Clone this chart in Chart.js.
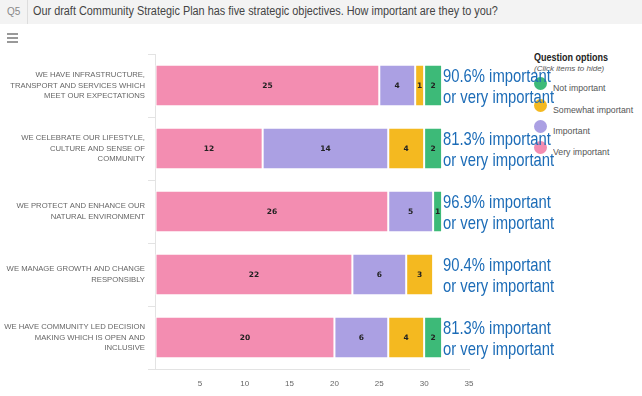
<!DOCTYPE html>
<html>
<head>
<meta charset="utf-8">
<script src="https://cdn.jsdelivr.net/npm/chart.js@4"></script>
<style>
  body { margin: 0; width: 642px; height: 396px; background: #fff; position: relative; overflow: hidden; font-family: "Liberation Sans", Arial, sans-serif; }
  #head { position: absolute; left: 0; top: 0; width: 642px; height: 24px; background: #f3f3f3; }
  #q { position: absolute; left: 7px; top: 6px; font-size: 10px; color: #888; }
  #sep { position: absolute; left: 27px; top: 0; width: 1px; height: 24px; background: #ddd; }
  #title { position: absolute; left: 33px; top: 4px; font-size: 12.5px; color: #444; white-space: nowrap; transform: scaleX(0.87); transform-origin: 0 0; }
  #menu { position: absolute; left: 7px; top: 33px; width: 11px; }
  #menu div { height: 2px; background: #999; margin-bottom: 2px; }
  #legend { position: absolute; left: 534px; top: 52px; color: #555; }
  #legend .t { font-weight: bold; font-size: 10px; color: #222; white-space: nowrap; transform: scaleX(0.9); transform-origin: 0 0; }
  #legend .s { font-style: italic; font-size: 8px; color: #555; margin-top: 1px; white-space: nowrap; }
  #legend .item { position: absolute; left: 0; white-space: nowrap; font-size: 9.5px; }
  #legend .dot { position: absolute; left: 0; width: 13px; height: 13px; border-radius: 50%; }
  #legend .lab { position: absolute; left: 19px; top: 5px; transform: scaleX(0.92); transform-origin: 0 0; }
  #wrap { position: absolute; left: 0; top: 0; width: 642px; height: 396px; }
</style>
</head>
<body>
<div id="head"><span id="q">Q5</span><div id="sep"></div><span id="title">Our draft Community Strategic Plan has five strategic objectives. How important are they to you?</span></div>
<div id="menu"><div></div><div></div><div></div></div>
<div id="legend"><div class="t">Question options</div><div class="s">(Click items to hide)</div></div>
<div id="wrap"><canvas id="myChart" width="642" height="396"></canvas></div>
<script>
let categories = [
    ['WE HAVE INFRASTRUCTURE,', 'TRANSPORT AND SERVICES WHICH', 'MEET OUR EXPECTATIONS'],
    ['WE CELEBRATE OUR LIFESTYLE,', 'CULTURE AND SENSE OF', 'COMMUNITY'],
    ['WE PROTECT AND ENHANCE OUR', 'NATURAL ENVIRONMENT'],
    ['WE MANAGE GROWTH AND CHANGE', 'RESPONSIBLY'],
    ['WE HAVE COMMUNITY LED DECISION', 'MAKING WHICH IS OPEN AND', 'INCLUSIVE']
];
let veryImportant = [25, 12, 26, 22, 20];
let important = [4, 14, 5, 6, 6];
let somewhatImportant = [1, 4, 0, 3, 4];
let notImportant = [2, 2, 1, 0, 2];
let notes = ['90.6%', '81.3%', '96.9%', '90.4%', '81.3%'];
let xTicks = [5, 10, 15, 20, 25, 30, 35];

let pink = '#f38db1', purple = '#aba0e3', yellow = '#f4b920', green = '#3dba78';

// html legend, reversed order like the original
let legendItems = [['Not important', green], ['Somewhat important', yellow], ['Important', purple], ['Very important', pink]];
let legendTop = [25, 47, 68, 89];
let legend = document.getElementById('legend');
legendItems.forEach((it, i) => {
    let d = document.createElement('div');
    d.className = 'item';
    d.style.top = legendTop[i] + 'px';
    d.innerHTML = '<div class="dot" style="background:' + it[1] + '"></div><span class="lab">' + it[0] + '</span>';
    legend.appendChild(d);
});

// numbers inside the bar segments
let segLabels = {
    id: 'segLabels',
    afterDatasetsDraw(chart) {
        let ctx = chart.ctx;
        ctx.save();
        ctx.font = 'bold 7.5px "DejaVu Sans", sans-serif';
        ctx.fillStyle = '#222';
        ctx.textAlign = 'center';
        ctx.textBaseline = 'middle';
        chart.data.datasets.forEach((ds, i) => {
            chart.getDatasetMeta(i).data.forEach((el, j) => {
                if (!ds.data[j]) return;
                let p = el.getCenterPoint();
                ctx.fillText(ds.data[j], p.x, p.y + 1);
            });
        });
        ctx.restore();
    }
};

// blue notes on the right of each bar (squeezed, the original font is narrow)
let sideNotes = {
    id: 'sideNotes',
    afterDraw(chart) {
        let ctx = chart.ctx;
        let x = chart.scales.x.getPixelForValue(32.1);
        ctx.save();
        ctx.font = '19px "Liberation Sans", Arial, sans-serif';
        ctx.fillStyle = '#1c6cb7';
        ctx.textAlign = 'left';
        ctx.textBaseline = 'middle';
        ctx.translate(x, 0);
        ctx.scale(0.78, 1);
        notes.forEach((n, i) => {
            let y = chart.scales.y.getPixelForValue(i);
            ctx.fillText(n + ' important', 0, y - 9);
            ctx.fillText('or very important', 0, y + 12);
        });
        ctx.restore();
    }
};

let myChart = document.getElementById('myChart').getContext('2d');
let chart = new Chart(myChart, {
    type: 'bar',
    data: {
        labels: categories,
        datasets: [
            { label: 'Very important', data: veryImportant, backgroundColor: pink },
            { label: 'Important', data: important, backgroundColor: purple },
            { label: 'Somewhat important', data: somewhatImportant, backgroundColor: yellow },
            { label: 'Not important', data: notImportant, backgroundColor: green }
        ]
    },
    options: {
        indexAxis: 'y',
        responsive: false,
        animation: false,
        events: [],
        datasets: {
            bar: { borderColor: '#fff', borderWidth: 1, borderSkipped: false, barPercentage: 0.8, categoryPercentage: 0.82 }
        },
        layout: { padding: { top: 54, right: 173, bottom: 0, left: 0 } },
        plugins: { legend: { display: false }, tooltip: { enabled: false } },
        scales: {
            x: {
                stacked: true,
                min: 0,
                max: 35,
                afterFit: s => { s.height = 27; },
                afterBuildTicks: s => { s.ticks = [0].concat(xTicks).map(v => ({ value: v })); },
                ticks: {
                    padding: 10,
                    color: '#666',
                    font: { size: 8, family: '"Liberation Sans", Arial, sans-serif' },
                    callback: v => v === 0 ? '' : v
                },
                grid: { drawOnChartArea: false, drawTicks: false },
                border: { display: true, color: '#e3e3e3' }
            },
            y: {
                stacked: true,
                afterFit: s => { s.width = 155; },
                ticks: {
                    padding: 3,
                    color: '#666',
                    font: { size: 7.7, family: '"Liberation Sans", Arial, sans-serif', lineHeight: 1.36 }
                },
                grid: { drawOnChartArea: false, drawTicks: true, tickLength: 7, color: '#e3e3e3', offset: true },
                border: { display: true, color: '#e3e3e3' }
            }
        }
    },
    plugins: [segLabels, sideNotes]
});
</script>
</body>
</html>
